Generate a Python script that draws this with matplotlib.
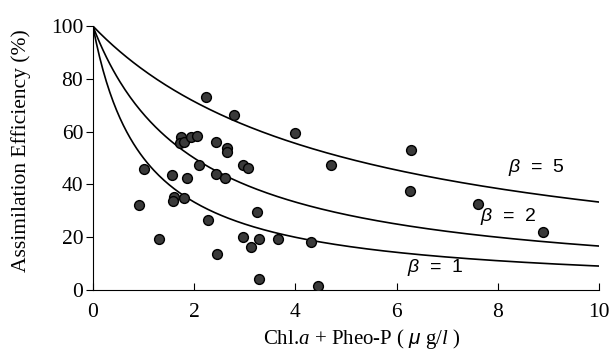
import numpy as np
import matplotlib.pyplot as plt

plt.rcParams["font.family"] = ["Liberation Serif", "DejaVu Serif"]
plt.rcParams["mathtext.fontset"] = "custom"
plt.rcParams["mathtext.rm"] = "Liberation Serif"
plt.rcParams["mathtext.it"] = "Liberation Serif:italic"
plt.rcParams["mathtext.sf"] = "Liberation Sans:italic"

# observed points: pigment concentration (ug/l) vs efficiency (%)
conc = [2.23, 2.78, 1.75, 1.72, 1.80, 1.94, 2.06, 2.43, 2.66, 2.66,
        1.01, 1.56, 1.85, 2.10, 2.44, 2.62, 2.97, 3.06, 1.60, 1.59,
        1.80, 0.92, 3.24, 2.27, 1.30, 2.97, 3.29, 3.12, 3.66, 2.45,
        3.29, 3.99, 4.71, 4.31, 4.44, 6.28, 6.26, 7.60, 8.90]
eff = [73.1, 66.2, 57.8, 55.6, 56.2, 58.1, 58.3, 56.2, 53.9, 52.4,
       45.7, 43.7, 42.3, 47.2, 43.8, 42.5, 47.3, 46.1, 35.3, 33.8,
       35.0, 32.3, 29.4, 26.4, 19.3, 20.2, 19.3, 16.2, 19.3, 13.6,
       4.3, 59.6, 47.2, 18.1, 1.5, 53.0, 37.4, 32.6, 21.9]

# model curves E = 100 * beta / (beta + C)
betas = [5, 2, 1]
beta_label_pos = [(8.77, 46.6), (8.2, 27.7), (6.76, 8.7)]

fig = plt.figure(figsize=(6.15, 3.52), dpi=100)
ax = fig.add_axes([0.151, 0.176, 0.823, 0.75])

xs = np.linspace(0, 10, 300)
for b, (lx, ly) in zip(betas, beta_label_pos):
    ax.plot(xs, 100 * b / (b + xs), color="black", lw=1.2)
    ax.text(lx, ly, r"$\mathsf{\beta}$  =  %d" % b, ha="center", va="center",
            fontsize=14, family=["Liberation Sans"])

ax.scatter(conc, eff, s=50, facecolor="#3a3a3a", edgecolor="black",
           linewidths=1.0, zorder=3)

ax.set_xlim(0, 10)
ax.set_ylim(0, 100)
ax.set_xticks(range(0, 11, 2))
ax.set_yticks(range(0, 101, 20))
ax.spines["top"].set_visible(False)
ax.spines["right"].set_visible(False)
ax.tick_params(axis="x", direction="in", length=5, labelsize=15.5, pad=9)
ax.tick_params(axis="y", direction="out", length=5, labelsize=15.5, pad=2)
ax.set_ylabel("Assimilation Efficiency (%)", fontsize=15.5, labelpad=14)
ax.yaxis.label.set_y(0.53)
ax.set_xlabel(r"Chl.$\it{a}$ + Pheo-P ( $\mathsf{\mu}$ g/$\it{l}$ )", fontsize=15, labelpad=4)
ax.xaxis.label.set_x(0.532)

fig.savefig("out.png", dpi=100)
